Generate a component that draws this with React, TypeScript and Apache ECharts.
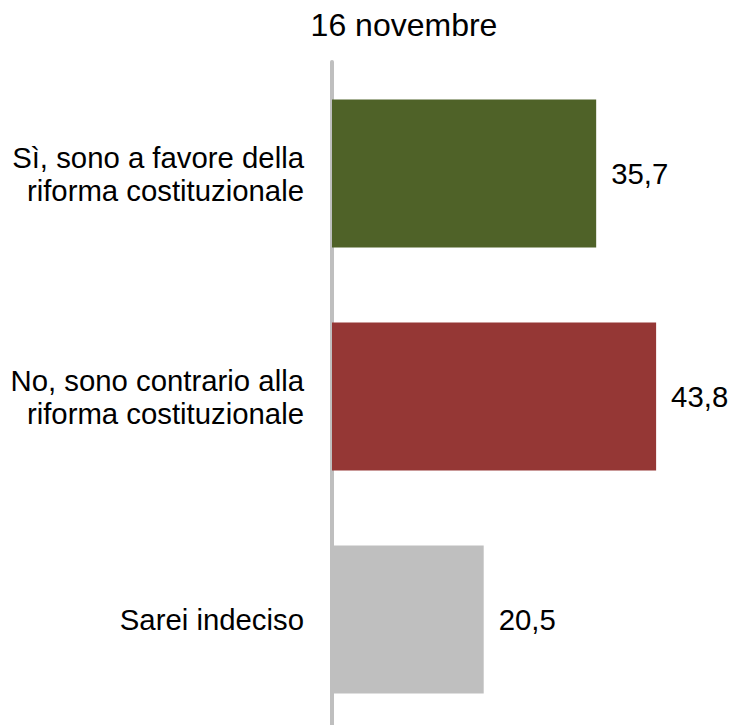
import React, { useEffect, useRef } from "react";
import * as echarts from "echarts";

const title = "16 novembre";
const categories = [
  "Sì, sono a favore della\nriforma costituzionale",
  "No, sono contrario alla\nriforma costituzionale",
  "Sarei indeciso",
];
const values = [35.7, 43.8, 20.5];
const colors = ["#4F6228", "#953735", "#BFBFBF"];

const FONT = "'Liberation Sans', Arial, sans-serif";

export default function App() {
  const ref = useRef<HTMLDivElement>(null);
  useEffect(() => {
    if (!ref.current) return;
    const chart = echarts.init(ref.current, null, { renderer: "svg" });
    chart.setOption({
      animation: false,
      backgroundColor: "#ffffff",
      title: {
        text: title,
        left: 399,
        top: 4,
        textAlign: "center",
        textStyle: { fontFamily: FONT, fontSize: 32, fontWeight: "normal", color: "#000" },
      },
      grid: {
        left: 332,
        top: 62,
        height: 669,
        width: 370,
        containLabel: false,
        outerBoundsMode: "none",
      },
      xAxis: {
        type: "value",
        min: 0,
        max: 50,
        show: false,
      },
      yAxis: {
        type: "category",
        data: categories,
        inverse: true,
        offset: 2,
        axisLine: { show: true, lineStyle: { color: "#BFBFBF", width: 4 } },
        axisTick: { show: false },
        splitLine: { show: false },
        axisLabel: {
          margin: 26,
          fontFamily: FONT,
          fontSize: 29.33,
          lineHeight: 33,
          padding: [0, 0, 3, 0],
          color: "#000",
        },
      },
      series: [
        {
          type: "bar",
          barWidth: 148,
          data: values.map((v, i) => ({ value: v, itemStyle: { color: colors[i] } })),
          label: {
            show: true,
            position: "right",
            distance: 15,
            fontFamily: FONT,
            fontSize: 29.33,
            color: "#000",
            formatter: (p: any) => String(p.value).replace(".", ","),
          },
        },
      ],
    });
    return () => chart.dispose();
  }, []);
  return (
    <div
      ref={ref}
      style={{ position: "fixed", left: 0, top: 0, width: 732, height: 725 }}
    />
  );
}
